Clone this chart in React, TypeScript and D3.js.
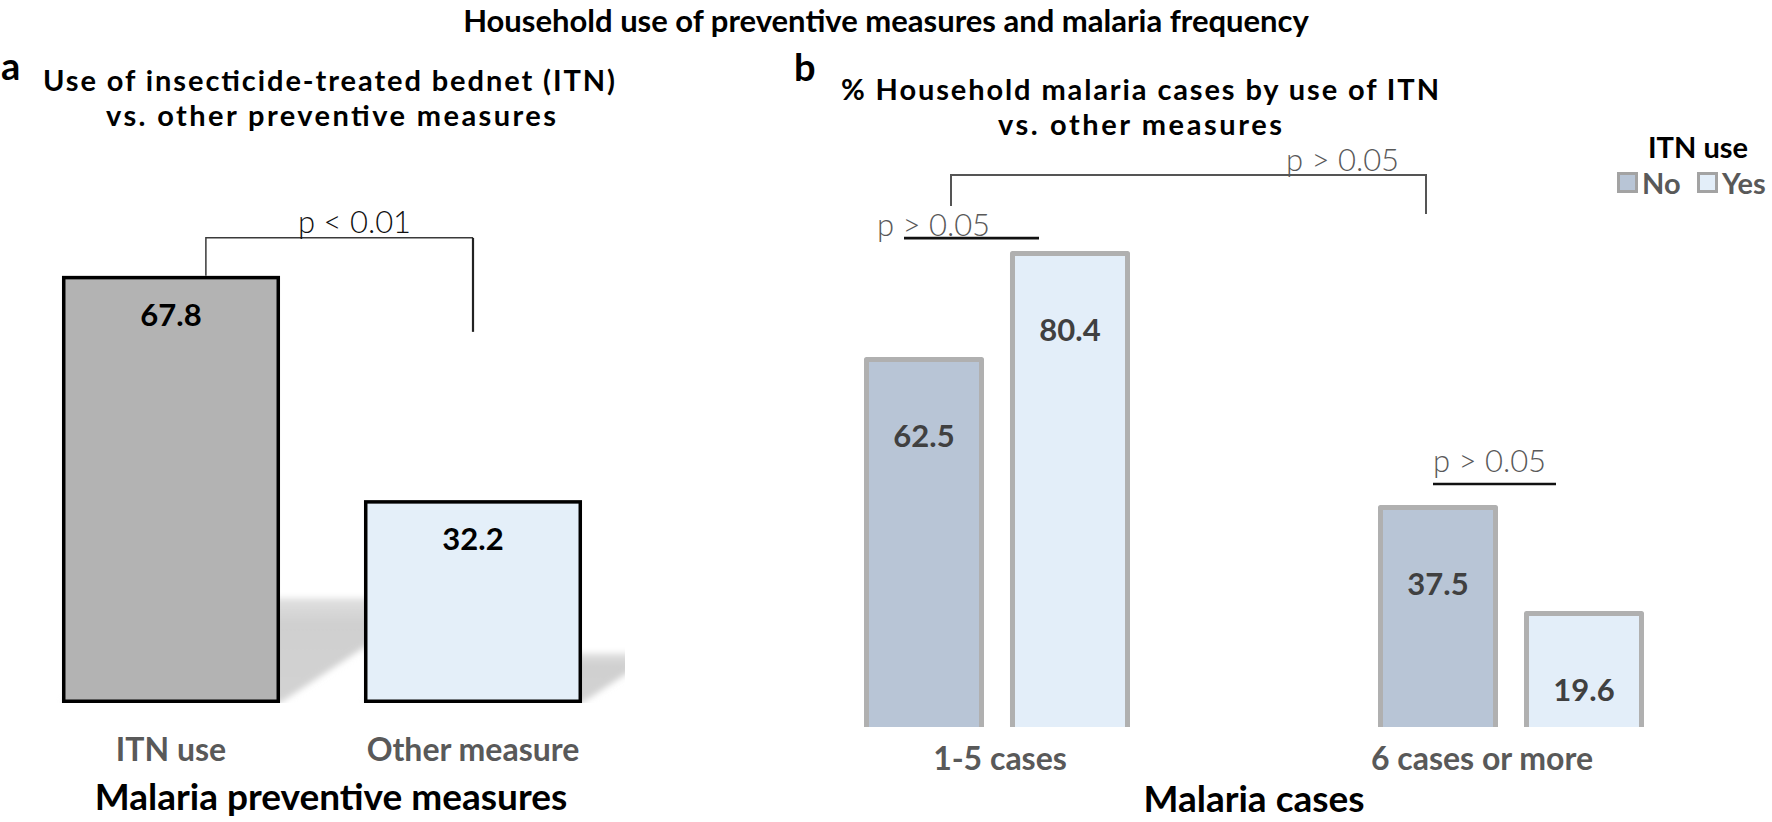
import React from "react";
import * as d3 from "d3";

// ---- data ----
const prevCategories = ["ITN use", "Other measure"];
const prevValues = [67.8, 32.2];
const caseCategories = ["1-5 cases", "6 cases or more"];
const itnGroups = ["No", "Yes"];
const noValues = [62.5, 37.5];
const yesValues = [80.4, 19.6];
const pLabels = ["p < 0.01", "p > 0.05", "p > 0.05", "p > 0.05"];

const W = 1772;
const H = 822;
const FONT = "Lato, 'Open Sans', 'DejaVu Sans', sans-serif";
const GRAY_TEXT = "#595959";

export default function App() {
  // Panel a scales
  const baseA = 703;
  const yA = d3.scaleLinear().domain([0, 100]).range([baseA, baseA - 630]);
  const xA = d3
    .scaleBand<string>()
    .domain(prevCategories)
    .range([20, 624])
    .paddingInner(0.278)
    .paddingOuter(0.139);
  const bwA = xA.bandwidth();
  const swA = 3.5;
  const fillA = ["#b3b3b3", "#e4eff9"];

  // Panel b scales
  const baseB = 727;
  const yB = d3.scaleLinear().domain([0, 100]).range([baseB, baseB - 592]);
  const xB = d3
    .scaleBand<string>()
    .domain(caseCategories)
    .range([735.5, 1772.5])
    .paddingInner(0.4825)
    .paddingOuter(0.25);
  const sub = d3
    .scaleBand<string>()
    .domain(itnGroups)
    .range([0, xB.bandwidth()])
    .paddingInner(0.178);
  const bwB = sub.bandwidth();
  const swB = 5;
  const colorB: Record<string, string> = { No: "#b8c5d6", Yes: "#e3eef9" };
  const seriesB: Record<string, number[]> = { No: noValues, Yes: yesValues };

  // shadows for panel a
  const shadowSlope = 0.66;
  const shadows = prevCategories.map((c, i) => {
    const x0 = xA(c)!;
    const x1 = x0 + bwA;
    const h = (baseA - yA(prevValues[i])) * 0.245;
    const dx = h / shadowSlope;
    return [
      [x0, baseA],
      [x1, baseA],
      [x1 + dx, baseA - h],
      [x0 + dx, baseA - h],
    ];
  });

  // annotation anchors
  const a1x0 = xA(prevCategories[0])! + bwA * 0.66;
  const a1x1 = xA(prevCategories[1])! + bwA / 2;
  const a1y = yA(prevValues[0]) - 38;

  const g0 = xB(caseCategories[0])!;
  const g1 = xB(caseCategories[1])!;
  const topY = yB(yesValues[0]) - 76;
  const bLeft = g0 + sub("No")! + 87;
  const bRight = g1 + sub("No")! + 48;

  return (
    <svg
      width={W}
      height={H}
      viewBox={`0 0 ${W} ${H}`}
      style={{ position: "absolute", left: 0, top: 0, background: "#fff" }}
      fontFamily={FONT}
    >
      <defs>
        <filter id="blur" x="-20%" y="-20%" width="140%" height="140%">
          <feGaussianBlur stdDeviation="3" />
        </filter>
        <linearGradient id="shGrad" x1="0" y1="0" x2="0" y2="1">
          <stop offset="0" stopColor="#e0e0e0" />
          <stop offset="0.25" stopColor="#cfcfcf" />
          <stop offset="1" stopColor="#d3d3d3" />
        </linearGradient>
        <clipPath id="clipA">
          <rect x={0} y={0} width={625} height={baseA} />
        </clipPath>
      </defs>
      <rect x={0} y={0} width={W} height={H} fill="#fff" />

      {/* Main title */}
      <text x={886} y={32} textAnchor="middle" fontWeight={700} fontSize={31} fill="#000">
        Household use of preventive measures and malaria frequency
      </text>

      {/* ---------- Panel a ---------- */}
      <text x={1} y={80} fontWeight={700} fontSize={38} fill="#000">a</text>
      <text textAnchor="middle" fontWeight={700} fontSize={29} fill="#000">
        <tspan x={329} y={91} textLength={572} lengthAdjust="spacing">
          Use of insecticide-treated bednet (ITN)
        </tspan>
        <tspan x={331} y={126} textLength={450} lengthAdjust="spacing">
          vs. other preventive measures
        </tspan>
      </text>

      <g clipPath="url(#clipA)">
        {shadows.map((pts, i) => (
          <polygon
            key={i}
            points={pts.map((p) => p.join(",")).join(" ")}
            fill="url(#shGrad)"
            filter="url(#blur)"
          />
        ))}
      </g>

      {prevCategories.map((c, i) => {
        const x0 = xA(c)!;
        const top = yA(prevValues[i]);
        return (
          <g key={c}>
            <rect
              x={x0 + swA / 2}
              y={top + swA / 2}
              width={bwA - swA}
              height={baseA - top - swA}
              fill={fillA[i]}
              stroke="#000"
              strokeWidth={swA}
            />
            <text
              x={x0 + bwA / 2}
              y={top + 50}
              textAnchor="middle"
              fontWeight={700}
              fontSize={31}
              fill="#000"
            >
              {prevValues[i].toFixed(1)}
            </text>
            <text
              x={x0 + bwA / 2}
              y={761}
              textAnchor="middle"
              fontWeight={700}
              fontSize={32}
              fill={GRAY_TEXT}
            >
              {c}
            </text>
          </g>
        );
      })}

      {/* bracket a */}
      <path
        d={`M${a1x0},${yA(prevValues[0])} V${a1y} H${a1x1}`}
        fill="none"
        stroke="#3a3a3a"
        strokeWidth={1.5}
      />
      <path d={`M${a1x1},${a1y} V${a1y + 94}`} fill="none" stroke="#222" strokeWidth={2.2} />
      <text x={298} y={a1y - 5} fontWeight={300} fontSize={31} fill="#111">
        {pLabels[0]}
      </text>

      <text x={331} y={810} textAnchor="middle" fontWeight={700} fontSize={37} fill="#000">
        Malaria preventive measures
      </text>

      {/* ---------- Panel b ---------- */}
      <text x={794} y={81} fontWeight={700} fontSize={38} fill="#000">b</text>
      <text textAnchor="middle" fontWeight={700} fontSize={29} fill="#000">
        <tspan x={1140} y={100} textLength={598} lengthAdjust="spacing">
          % Household malaria cases by use of ITN
        </tspan>
        <tspan x={1140} y={135} textLength={284} lengthAdjust="spacing">
          vs. other measures
        </tspan>
      </text>

      {/* legend */}
      <text x={1698} y={158} textAnchor="middle" fontWeight={700} fontSize={29} fill="#000">
        ITN use
      </text>
      {itnGroups.map((g, i) => {
        const lx = i === 0 ? 1617 : 1697;
        return (
          <g key={g}>
            <rect x={lx + 1.5} y={173.5} width={18} height={18} fill={colorB[g]} stroke="#a3a3a3" strokeWidth={3} />
            <text x={lx + 25} y={194} fontWeight={700} fontSize={29} fill={GRAY_TEXT}>
              {g}
            </text>
          </g>
        );
      })}

      {caseCategories.map((c, ci) => {
        const gx = xB(c)!;
        return (
          <g key={c}>
            {itnGroups.map((g) => {
              const v = seriesB[g][ci];
              const x0 = gx + sub(g)!;
              const top = yB(v);
              return (
                <g key={g}>
                  <rect x={x0 + swB / 2} y={top + swB / 2} width={bwB - swB} height={baseB - top - swB / 2} fill={colorB[g]} />
                  <path
                    d={`M${x0 + swB / 2},${baseB} V${top + swB / 2} H${x0 + bwB - swB / 2} V${baseB}`}
                    fill="none"
                    stroke="#b0b0b0"
                    strokeWidth={swB}
                    strokeLinejoin="round"
                  />
                  <text
                    x={x0 + bwB / 2}
                    y={top + 90}
                    textAnchor="middle"
                    fontWeight={700}
                    fontSize={31}
                    fill="#404040"
                  >
                    {v.toFixed(1)}
                  </text>
                </g>
              );
            })}
            <text
              x={gx + xB.bandwidth() / 2 + (ci === 0 ? 3 : -29)}
              y={770}
              textAnchor="middle"
              fontWeight={700}
              fontSize={32}
              fill={GRAY_TEXT}
            >
              {c}
            </text>
          </g>
        );
      })}

      {/* top bracket b */}
      <path
        d={`M${bLeft},${topY + 31} V${topY} H${bRight} V${topY + 39}`}
        fill="none"
        stroke="#555"
        strokeWidth={2}
      />
      <text x={bRight - 140} y={topY - 4} fontWeight={300} fontSize={31} fill={GRAY_TEXT}>
        {pLabels[1]}
      </text>

      {/* 1-5 cases underline */}
      <text x={877} y={yB(yesValues[0]) - 15} fontWeight={300} fontSize={31} fill={GRAY_TEXT}>
        {pLabels[2]}
      </text>
      <line
        x1={g0 + 40}
        x2={g0 + 175}
        y1={yB(yesValues[0]) - 13}
        y2={yB(yesValues[0]) - 13}
        stroke="#111"
        strokeWidth={2.7}
      />

      {/* 6+ underline */}
      <text x={1433} y={yB(noValues[1]) - 33} fontWeight={300} fontSize={31} fill={GRAY_TEXT}>
        {pLabels[3]}
      </text>
      <line
        x1={g1 + 55}
        x2={g1 + 178}
        y1={yB(noValues[1]) - 21}
        y2={yB(noValues[1]) - 21}
        stroke="#111"
        strokeWidth={2.7}
      />

      <text x={(g0 + g1 + xB.bandwidth()) / 2} y={812} textAnchor="middle" fontWeight={700} fontSize={37} fill="#000">
        Malaria cases
      </text>
    </svg>
  );
}
